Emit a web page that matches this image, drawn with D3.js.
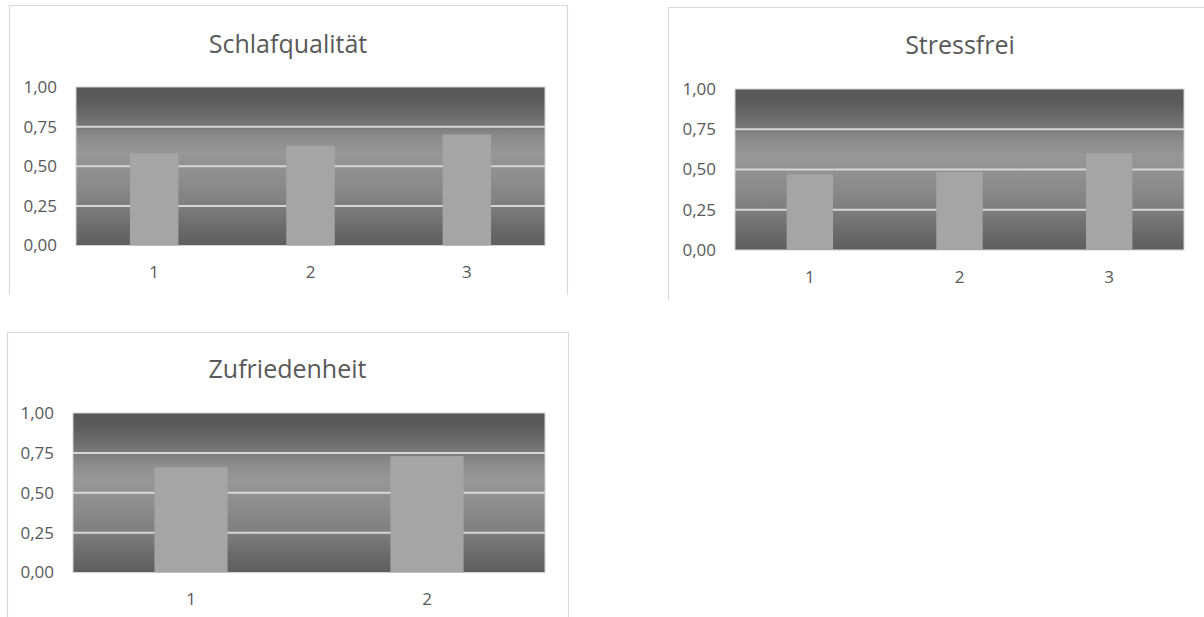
<!DOCTYPE html>
<html>
<head>
<meta charset="utf-8">
<script src="https://cdn.jsdelivr.net/npm/d3@7"></script>
<style>
  body { margin: 0; background: #fff; }
  svg { display: block; }
  text { font-family: "Open Sans", sans-serif; fill: #595959; }
</style>
</head>
<body>
<div class="chart"></div>
<script>
// data
var schlafCategories = ["1", "2", "3"];
var schlafValues = [0.58, 0.63, 0.70];

var stressCategories = ["1", "2", "3"];
var stressValues = [0.47, 0.485, 0.60];

var zufriedenCategories = ["1", "2"];
var zufriedenValues = [0.66, 0.73];

var yTicks = [0, 0.25, 0.5, 0.75, 1];

var de = d3.formatLocale({ decimal: ",", thousands: ".", grouping: [3], currency: ["", " €"] });
var fmt = de.format(".2f");

var w = 1204;
var h = 617;

var svg = d3.select(".chart")
    .append("svg")
    .attr("width", w)
    .attr("height", h);

var defs = svg.append("defs");

// one gradient shared by every plot area: dark top, light middle, dark bottom
var grad = defs.append("linearGradient")
    .attr("id", "plotBg")
    .attr("x1", 0).attr("y1", 0)
    .attr("x2", 0).attr("y2", 1);
[
    [0, "#575757"], [0.08, "#5b5b5b"], [0.2, "#6f6f6f"], [0.25, "#7b7b7b"],
    [0.32, "#8c8c8c"], [0.42, "#979797"], [0.5, "#929292"], [0.62, "#8a8a8a"],
    [0.75, "#7e7e7e"], [0.88, "#6c6c6c"], [1, "#5e5e5e"]
].forEach(function(s) {
    grad.append("stop").attr("offset", s[0]).attr("stop-color", s[1]);
});

var panels = [
    { title: "Schlafqualität", cats: schlafCategories, vals: schlafValues,
      box: { x: 9, y: 5, w: 558, bottom: 295 },
      plot: { x: 76, y: 87, w: 469, h: 158.5 },
      titleY: 53, labelY: 278 },
    { title: "Stressfrei", cats: stressCategories, vals: stressValues,
      box: { x: 668, y: 7, w: 584, bottom: 300 },
      plot: { x: 735, y: 89, w: 449, h: 161 },
      titleY: 54, labelY: 283 },
    { title: "Zufriedenheit", cats: zufriedenCategories, vals: zufriedenValues,
      box: { x: 7, y: 332, w: 561, bottom: 640 },
      plot: { x: 73, y: 413, w: 472, h: 159.5 },
      titleY: 378, labelY: 605 }
];

panels.forEach(function(p) {
    var g = svg.append("g");

    // chart frame (bottom edge is cut off in the original)
    var b = p.box;
    g.append("path")
        .attr("d", "M" + (b.x + 0.5) + "," + b.bottom + "V" + (b.y + 0.5) +
                   "H" + (b.x + b.w + 0.5) + "V" + b.bottom)
        .attr("fill", "none")
        .attr("stroke", "#d9d9d9")
        .attr("stroke-width", 1.2);

    g.append("text")
        .attr("x", b.x + b.w / 2)
        .attr("y", p.titleY)
        .attr("text-anchor", "middle")
        .style("font-size", "25px")
        .text(p.title);

    var plot = g.append("g")
        .attr("transform", "translate(" + p.plot.x + "," + p.plot.y + ")");

    var x = d3.scaleBand()
        .domain(p.cats)
        .range([0, p.plot.w])
        .paddingInner(0.69)
        .paddingOuter(0.345);

    var y = d3.scaleLinear()
        .domain([0, 1])
        .range([p.plot.h, 0]);

    plot.append("rect")
        .attr("width", p.plot.w)
        .attr("height", p.plot.h)
        .attr("fill", "url(#plotBg)")
        .attr("stroke", "#d4d4d4")
        .attr("stroke-width", 1);

    plot.selectAll("line.grid")
        .data(yTicks.filter(function(t) { return t > 0 && t < 1; }))
        .enter()
        .append("line")
        .attr("class", "grid")
        .attr("x1", 0)
        .attr("x2", p.plot.w)
        .attr("y1", function(d) { return y(d); })
        .attr("y2", function(d) { return y(d); })
        .attr("stroke", "#d6d6d6")
        .attr("stroke-width", 2);

    plot.selectAll("rect.bar")
        .data(p.vals)
        .enter()
        .append("rect")
        .attr("class", "bar")
        .attr("x", function(d, i) { return x(p.cats[i]); })
        .attr("width", x.bandwidth())
        .attr("y", function(d) { return y(d); })
        .attr("height", function(d) { return y(0) - y(d); })
        .attr("fill", "#a5a5a5");

    var yAxis = plot.append("g")
        .call(d3.axisLeft(y).tickValues(yTicks).tickSize(0).tickPadding(19).tickFormat(fmt));
    yAxis.select(".domain").remove();
    yAxis.selectAll("text")
        .style("font-size", "17px")
        .style("font-family", "'Open Sans', sans-serif")
        .attr("fill", "#595959");

    var xAxis = g.append("g")
        .attr("transform", "translate(" + p.plot.x + "," + p.labelY + ")")
        .call(d3.axisBottom(x).tickSize(0).tickPadding(0));
    xAxis.select(".domain").remove();
    xAxis.selectAll("text")
        .attr("dy", 0)
        .style("font-size", "17px")
        .style("font-family", "'Open Sans', sans-serif")
        .attr("fill", "#595959");
});
</script>
</body>
</html>
